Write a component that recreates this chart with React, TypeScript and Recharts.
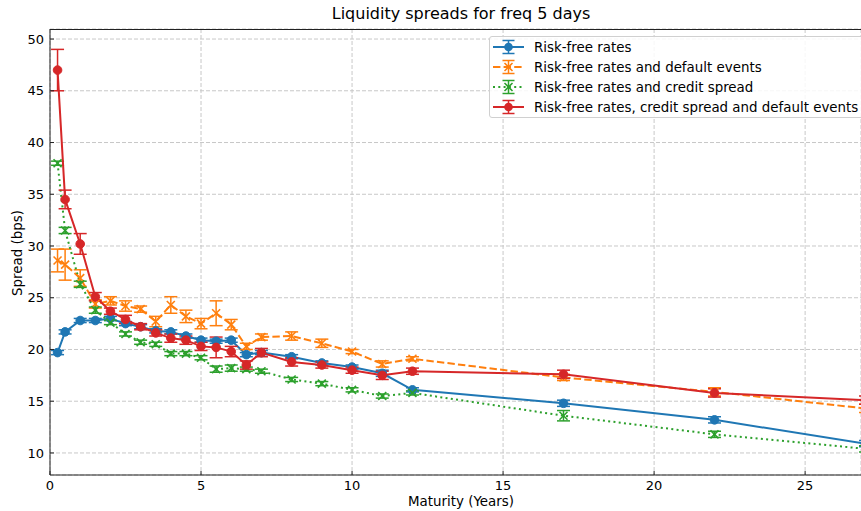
import React from 'react';
import { ComposedChart, Line, XAxis, YAxis, CartesianGrid, ErrorBar } from 'recharts';

// maturities (years) shared by all four series
const maturities = [0.25, 0.5, 1, 1.5, 2, 2.5, 3, 3.5, 4, 4.5, 5, 5.5, 6, 6.5, 7, 8, 9, 10, 11, 12, 17, 22, 27];

const riskFree = [19.7, 21.7, 22.8, 22.8, 23.0, 22.5, 22.2, 21.8, 21.7, 21.3, 20.9, 20.8, 20.9, 19.5, 19.7, 19.3, 18.7, 18.3, 17.7, 16.1, 14.8, 13.2, 10.9];
const riskFreeErr = [0.2, 0.2, 0.2, 0.2, 0.2, 0.2, 0.2, 0.2, 0.2, 0.2, 0.2, 0.2, 0.2, 0.2, 0.2, 0.2, 0.2, 0.2, 0.3, 0.2, 0.3, 0.3, 0.3];

const withDefault = [28.6, 28.2, 26.9, 24.4, 24.7, 24.2, 23.9, 22.7, 24.3, 23.2, 22.5, 23.5, 22.4, 20.3, 21.2, 21.3, 20.6, 19.8, 18.6, 19.1, 17.3, 15.9, 14.3];
const withDefaultErr = [1.1, 1.5, 0.8, 0.4, 0.4, 0.5, 0.3, 0.5, 0.8, 0.6, 0.5, 1.2, 0.5, 0.3, 0.3, 0.4, 0.4, 0.2, 0.3, 0.2, 0.3, 0.4, 0.4];

const withCredit = [38.0, 31.5, 26.3, 23.8, 22.6, 21.5, 20.7, 20.5, 19.6, 19.6, 19.2, 18.1, 18.2, 18.1, 17.9, 17.1, 16.7, 16.1, 15.5, 15.8, 13.6, 11.8, 10.4];
const withCreditErr = [0.2, 0.3, 0.3, 0.3, 0.2, 0.2, 0.2, 0.2, 0.2, 0.2, 0.2, 0.3, 0.3, 0.2, 0.2, 0.2, 0.2, 0.2, 0.2, 0.2, 0.5, 0.3, 0.3];

const withAll = [47.0, 34.5, 30.2, 25.1, 23.7, 22.9, 22.2, 21.6, 21.1, 20.9, 20.3, 20.2, 19.8, 18.5, 19.7, 18.8, 18.5, 18.0, 17.5, 17.9, 17.6, 15.8, 15.1];
const withAllErr = [2.0, 0.9, 1.0, 0.4, 0.3, 0.4, 0.3, 0.3, 0.4, 0.4, 0.4, 1.0, 0.5, 0.4, 0.4, 0.4, 0.3, 0.3, 0.4, 0.3, 0.4, 0.4, 0.4];

const xTicks = [0, 5, 10, 15, 20, 25];
const yTicks = [10, 15, 20, 25, 30, 35, 40, 45, 50];

const seriesNames = [
  'Risk-free rates',
  'Risk-free rates and default events',
  'Risk-free rates and credit spread',
  'Risk-free rates, credit spread and default events',
];

const BLUE = '#1f77b4';
const ORANGE = '#ff7f0e';
const GREEN = '#2ca02c';
const RED = '#d62728';
const FONT = '"DejaVu Sans", sans-serif';

const data = maturities.map((m, i) => ({
  m,
  rf: riskFree[i],
  rfErr: riskFreeErr[i],
  def: withDefault[i],
  defErr: withDefaultErr[i],
  cs: withCredit[i],
  csErr: withCreditErr[i],
  all: withAll[i],
  allErr: withAllErr[i],
}));

const circleDot = (color: string) => (props: any) => {
  const { cx, cy, index } = props;
  if (cx == null || cy == null) return <g key={index} />;
  return <circle key={index} cx={cx} cy={cy} r={4.3} fill={color} stroke={color} strokeWidth={1} />;
};

const crossDot = (color: string) => (props: any) => {
  const { cx, cy, index } = props;
  if (cx == null || cy == null) return <g key={index} />;
  const s = 4;
  return (
    <g key={index} stroke={color} strokeWidth={1.6}>
      <line x1={cx - s} y1={cy - s} x2={cx + s} y2={cy + s} />
      <line x1={cx - s} y1={cy + s} x2={cx + s} y2={cy - s} />
    </g>
  );
};

const LegendIcon = ({ color, dash, cross }: { color: string; dash?: string; cross?: boolean }) => (
  <svg width={34} height={20} style={{ display: 'block' }}>
    <line x1={1} y1={10} x2={32} y2={10} stroke={color} strokeWidth={2} strokeDasharray={dash} />
    <line x1={16.5} y1={3.5} x2={16.5} y2={16.5} stroke={color} strokeWidth={1.5} />
    <line x1={10.5} y1={3.5} x2={22.5} y2={3.5} stroke={color} strokeWidth={1.5} />
    <line x1={10.5} y1={16.5} x2={22.5} y2={16.5} stroke={color} strokeWidth={1.5} />
    {cross ? (
      <g stroke={color} strokeWidth={1.6}>
        <line x1={12.5} y1={6} x2={20.5} y2={14} />
        <line x1={12.5} y1={14} x2={20.5} y2={6} />
      </g>
    ) : (
      <circle cx={16.5} cy={10} r={4.3} fill={color} />
    )}
  </svg>
);

const legendItems = [
  { color: BLUE, dash: undefined, cross: false },
  { color: ORANGE, dash: '7.4 3.2', cross: true },
  { color: GREEN, dash: '2 3.3', cross: true },
  { color: RED, dash: undefined, cross: false },
];

export default function App() {
  return (
    <div style={{ position: 'absolute', left: 0, top: 0, width: 861, height: 511, background: '#fff', overflow: 'hidden', fontFamily: FONT }}>
      <ComposedChart width={861} height={511} data={data} margin={{ top: 29, right: 0, bottom: 0, left: 0 }}>
        <CartesianGrid stroke="#c8c8c8" strokeDasharray="4 2" />
        <XAxis
          dataKey="m"
          type="number"
          domain={[0, 26.85]}
          allowDataOverflow
          ticks={xTicks}
          height={36}
          stroke="#222"
          tickSize={-4}
          tickMargin={10}
          tick={{ fill: '#000', fontSize: 13, fontFamily: FONT }}
        />
        <YAxis
          type="number"
          domain={[7.87, 50.97]}
          allowDataOverflow
          ticks={yTicks}
          width={50}
          stroke="#222"
          tickSize={-4}
          tickMargin={10}
          tick={{ fill: '#000', fontSize: 13, fontFamily: FONT }}
        />
        <Line dataKey="rf" stroke={BLUE} strokeWidth={2} dot={circleDot(BLUE)} activeDot={false} isAnimationActive={false}>
          <ErrorBar dataKey="rfErr" width={6.5} stroke={BLUE} strokeWidth={1.5} direction="y" isAnimationActive={false} />
        </Line>
        <Line dataKey="def" stroke={ORANGE} strokeWidth={2} strokeDasharray="7.4 3.2" dot={crossDot(ORANGE)} activeDot={false} isAnimationActive={false}>
          <ErrorBar dataKey="defErr" width={6.5} stroke={ORANGE} strokeWidth={1.5} direction="y" isAnimationActive={false} />
        </Line>
        <Line dataKey="cs" stroke={GREEN} strokeWidth={2} strokeDasharray="2 3.3" dot={crossDot(GREEN)} activeDot={false} isAnimationActive={false}>
          <ErrorBar dataKey="csErr" width={6.5} stroke={GREEN} strokeWidth={1.5} direction="y" isAnimationActive={false} />
        </Line>
        <Line dataKey="all" stroke={RED} strokeWidth={2} dot={circleDot(RED)} activeDot={false} isAnimationActive={false}>
          <ErrorBar dataKey="allErr" width={6.5} stroke={RED} strokeWidth={1.5} direction="y" isAnimationActive={false} />
        </Line>
      </ComposedChart>

      {/* top spine */}
      <div style={{ position: 'absolute', left: 50, top: 29, width: 811, height: 1, background: '#222' }} />

      <div style={{ position: 'absolute', left: 0, width: 922, top: 4, textAlign: 'center', fontSize: 16, color: '#000' }}>
        Liquidity spreads for freq 5 days
      </div>
      <div style={{ position: 'absolute', left: 0, width: 922, top: 494, textAlign: 'center', fontSize: 13.4, color: '#000' }}>
        Maturity (Years)
      </div>
      <div
        style={{
          position: 'absolute',
          left: 17,
          top: 253,
          transform: 'translate(-50%, -50%) rotate(-90deg)',
          whiteSpace: 'nowrap',
          fontSize: 13.4,
          color: '#000',
        }}
      >
        Spread (bps)
      </div>

      <div
        style={{
          position: 'absolute',
          left: 489,
          top: 36,
          width: 380,
          height: 82,
          background: 'rgba(255,255,255,0.85)',
          border: '1px solid #d0d0d0',
          borderRadius: 3,
          boxSizing: 'border-box',
        }}
      >
        {seriesNames.map((name, i) => (
          <div key={name} style={{ position: 'absolute', left: 2, top: 0 + i * 20, height: 20, display: 'flex', alignItems: 'center' }}>
            <LegendIcon color={legendItems[i].color} dash={legendItems[i].dash} cross={legendItems[i].cross} />
            <span style={{ marginLeft: 8, fontSize: 13.4, color: '#000', whiteSpace: 'nowrap' }}>{name}</span>
          </div>
        ))}
      </div>
    </div>
  );
}
